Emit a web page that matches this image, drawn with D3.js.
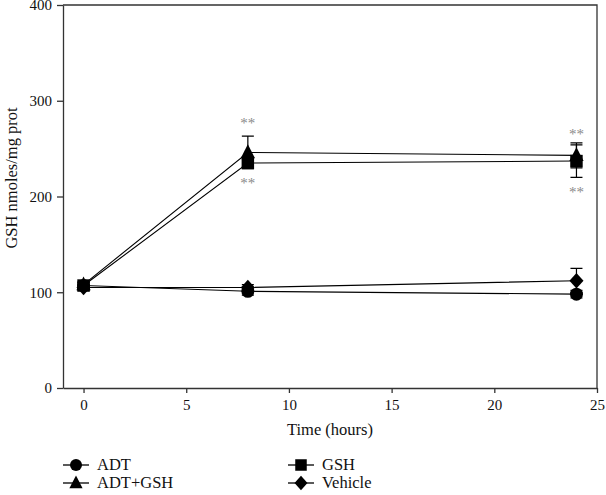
<!DOCTYPE html>
<html>
<head>
<meta charset="utf-8">
<script src="https://cdn.jsdelivr.net/npm/d3@7"></script>
<style>
  body { margin: 0; background: #fff; }
  text { font-family: "Liberation Serif", "Times New Roman", serif; }
</style>
</head>
<body>
<div id="chart"></div>
<script>
const width = 606
const height = 495
const margin = { top: 5, bottom: 107, left: 63, right: 8 }

// data
const hours = [0, 8, 24]
const seriesNames = ["ADT", "ADT+GSH", "GSH", "Vehicle"]
const adt = [107, 101, 98]
const adtErr = [3, 4, 4]
const adtGsh = [108, 246, 243]
const adtGshErr = [3, 17, 13]
const gsh = [107, 235, 237]
const gshErr = [3, 4, 17]
const vehicle = [105, 105, 112]
const vehicleErr = [3, 3, 13]
const xTicks = [0, 5, 10, 15, 20, 25]
const yTicks = [0, 100, 200, 300, 400]
// significance marks: [hour, value]
const starsAt = [[8, 278], [8, 215], [24, 266], [24, 206]]

const series = [
    { name: seriesNames[0], values: adt, err: adtErr, shape: "circle" },
    { name: seriesNames[1], values: adtGsh, err: adtGshErr, shape: "triangle" },
    { name: seriesNames[2], values: gsh, err: gshErr, shape: "square" },
    { name: seriesNames[3], values: vehicle, err: vehicleErr, shape: "diamond" },
]

const shapePath = (shape, s) => {
    if (shape === "circle") return d3.symbol(d3.symbolCircle, Math.PI * (s * 0.5) ** 2)()
    if (shape === "square") { const h = s * 0.48; return `M${-h},${-h}H${h}V${h}H${-h}Z` }
    if (shape === "triangle") { const h = s * 0.55; return `M0,${-h - 1}L${h},${h * 0.8}L${-h},${h * 0.8}Z` }
    const h = s * 0.6
    return `M0,${-h}L${h * 0.9},0L0,${h}L${-h * 0.9},0Z`
}

const svg = d3.select("div#chart").append("svg").attr("width", width).attr("height", height)

const x = d3.scaleLinear().domain([-1, 25]).range([margin.left, width - margin.right - 1])
const y = d3.scaleLinear().domain([0, 400]).range([height - margin.bottom, margin.top])

const axisColor = "#333"

// frame
svg.append("path")
    .attr("d", `M${x(-1)},${y(400)}H${x(25)}V${y(0)}`)
    .attr("fill", "none").attr("stroke", axisColor).attr("stroke-width", 1.3)

const xAxisGroup = svg.append("g").attr("transform", `translate(0, ${y(0)})`)
    .call(d3.axisBottom(x).tickValues(xTicks).tickSize(5).tickSizeOuter(0).tickPadding(6))
const yAxisGroup = svg.append("g").attr("transform", `translate(${x(-1)}, 0)`)
    .call(d3.axisLeft(y).tickValues(yTicks).tickSize(6).tickSizeOuter(0).tickPadding(5))

;[xAxisGroup, yAxisGroup].forEach(g => {
    g.attr("font-family", null)
    g.select(".domain").attr("stroke", axisColor).attr("stroke-width", 1.3)
    g.selectAll(".tick line").attr("stroke", axisColor).attr("stroke-width", 1.3)
    g.selectAll(".tick text").attr("fill", "#111").style("font-size", "15px")
})

svg.append("text").attr("x", x(12)).attr("y", 435).attr("text-anchor", "middle")
    .style("font-size", "16.5px").attr("fill", "#111").text("Time (hours)")
svg.append("text").attr("transform", `translate(17, 178) rotate(-90)`).attr("text-anchor", "middle")
    .style("font-size", "16.5px").attr("fill", "#111").text("GSH nmoles/mg prot")

const plot = svg.append("g")

// lines
series.forEach(s => {
    plot.append("path")
        .datum(hours.map((h, i) => [h, s.values[i]]))
        .attr("fill", "none").attr("stroke", "#000").attr("stroke-width", 1.1)
        .attr("d", d3.line().x(d => x(d[0])).y(d => y(d[1])))
})

// error bars
series.forEach(s => {
    hours.forEach((h, i) => {
        const cx = x(h), lo = y(s.values[i] - s.err[i]), hi = y(s.values[i] + s.err[i])
        plot.append("path")
            .attr("d", `M${cx},${lo}V${hi}M${cx - 6},${hi}H${cx + 6}M${cx - 6},${lo}H${cx + 6}`)
            .attr("stroke", "#000").attr("stroke-width", 1.2).attr("fill", "none")
    })
})

// markers
series.forEach(s => {
    plot.selectAll(null).data(hours.map((h, i) => [h, s.values[i]])).join("path")
        .attr("transform", d => `translate(${x(d[0])}, ${y(d[1])})`)
        .attr("d", shapePath(s.shape, 13))
        .attr("fill", "#000")
})

// significance stars
svg.selectAll(null).data(starsAt).join("text")
    .attr("x", d => x(d[0])).attr("y", d => y(d[1]) + 6)
    .attr("text-anchor", "middle").attr("fill", "#8a8a8a")
    .style("font-size", "15px").text("**")

// legend
const legendPos = [[76, 465], [76, 483], [301, 465], [301, 483]]
series.forEach((s, i) => {
    const [lx, ly] = legendPos[i]
    const g = svg.append("g").attr("transform", `translate(${lx}, ${ly})`)
    g.append("line").attr("x1", -13).attr("x2", 13).attr("stroke", "#000").attr("stroke-width", 1.3)
    g.append("path").attr("d", shapePath(s.shape, 12)).attr("fill", "#000")
    g.append("text").attr("x", 21).attr("y", 5).style("font-size", "16.5px").attr("fill", "#111").text(s.name)
})
</script>
</body>
</html>
